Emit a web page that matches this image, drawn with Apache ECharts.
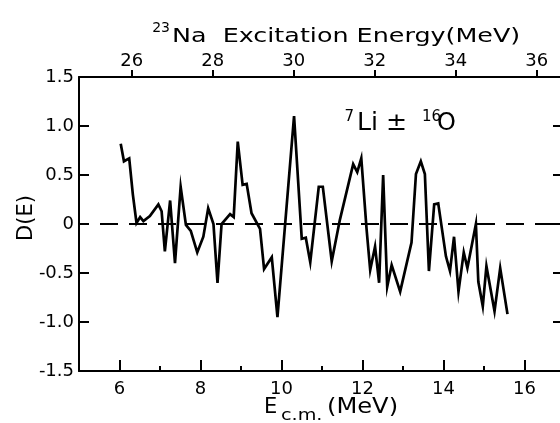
<!DOCTYPE html>
<html>
<head>
<meta charset="utf-8">
<script src="https://cdn.jsdelivr.net/npm/echarts@6/dist/echarts.min.js"></script>
<style>
  html, body { margin: 0; padding: 0; background: #fff; }
  #chart { width: 560px; height: 423px; }
</style>
</head>
<body>
<div id="chart"></div>
<script>
// Centre-of-mass energy (MeV) and deviation function D(E) for 7Li + 16O
const ecm = [
  6.03, 6.11, 6.24, 6.33, 6.42, 6.51, 6.59, 6.75, 6.96, 7.04,
  7.12, 7.25, 7.37, 7.51, 7.64, 7.76, 7.92, 8.07, 8.19, 8.32,
  8.42, 8.52, 8.73, 8.82, 8.92, 9.04, 9.14, 9.26, 9.47, 9.57,
  9.76, 9.90, 10.31, 10.50, 10.60, 10.71, 10.92, 11.02, 11.24, 11.44,
  11.77, 11.87, 11.97, 12.10, 12.19, 12.31, 12.41, 12.51, 12.61, 12.72,
  12.93, 13.21, 13.32, 13.44, 13.54, 13.64, 13.77, 13.87, 14.06, 14.16,
  14.26, 14.37, 14.50, 14.59, 14.80, 14.86, 14.97, 15.06, 15.26, 15.40,
  15.58
];
const dE = [
  0.82, 0.64, 0.67, 0.30, 0.01, 0.07, 0.03, 0.08, 0.20, 0.13,
  -0.28, 0.24, -0.40, 0.38, -0.01, -0.07, -0.29, -0.13, 0.16, 0.00,
  -0.60, 0.00, 0.10, 0.07, 0.84, 0.40, 0.41, 0.11, -0.05, -0.46,
  -0.34, -0.95, 1.10, -0.15, -0.14, -0.39, 0.38, 0.38, -0.38, 0.04,
  0.61, 0.53, 0.67, -0.05, -0.47, -0.23, -0.60, 0.50, -0.64, -0.42,
  -0.69, -0.19, 0.51, 0.64, 0.51, -0.48, 0.20, 0.21, -0.33, -0.48,
  -0.13, -0.69, -0.29, -0.45, 0.00, -0.59, -0.84, -0.43, -0.89, -0.45,
  -0.92
];

// Axis ticks
const ecmMajorTicks = [6, 8, 10, 12, 14, 16];
const ecmMinorTicks = [7, 9, 11, 13, 15];
const exTicks = [26, 28, 30, 32, 34, 36];
const ecmRange = [5, 17];
const dRange = [-1.5, 1.5];
const dStep = 0.5;
// 23Na excitation energy = Ecm + Q(7Li + 16O -> 23Na)
const qValue = 19.70;

const FONT = 'DejaVu Sans';
const INK = '#000';

const chart = echarts.init(document.getElementById('chart'), null, { renderer: 'canvas' });

const lineStyle = { color: INK, width: 2 };
const labelStyle = { color: INK, fontFamily: FONT, fontSize: 18 };

function textEl(text, x, y, size, opts) {
  return Object.assign({
    type: 'text',
    x: x, y: y,
    silent: true,
    style: Object.assign({
      text: text,
      fill: INK,
      fontFamily: FONT,
      fontSize: size,
      align: 'left',
      verticalAlign: 'middle'
    }, (opts && opts.style) || {})
  }, (opts && opts.el) || {});
}

const option = {
  animation: false,
  backgroundColor: '#fff',
  grid: {
    left: 79, top: 77, width: 486, height: 294,
    containLabel: false,
    outerBoundsMode: 'none'
  },
  xAxis: [
    {
      type: 'value', position: 'bottom', min: ecmRange[0], max: ecmRange[1],
      axisLine: { show: true, onZero: false, lineStyle: lineStyle },
      axisTick: { show: true, inside: true, length: 11, customValues: ecmMajorTicks, lineStyle: lineStyle },
      axisLabel: Object.assign({ customValues: ecmMajorTicks, margin: 9 }, labelStyle),
      splitLine: { show: false }
    },
    {
      type: 'value', position: 'bottom', min: ecmRange[0], max: ecmRange[1],
      axisLine: { show: false, onZero: false },
      axisTick: { show: true, inside: true, length: 5, customValues: ecmMinorTicks, lineStyle: lineStyle },
      axisLabel: { show: false },
      splitLine: { show: false }
    },
    {
      type: 'value', position: 'top', min: ecmRange[0] + qValue, max: ecmRange[1] + qValue,
      axisLine: { show: true, onZero: false, lineStyle: lineStyle },
      axisTick: { show: true, inside: false, length: 7, customValues: exTicks, lineStyle: lineStyle },
      axisLabel: Object.assign({ customValues: exTicks, margin: 7 }, labelStyle),
      splitLine: { show: false }
    }
  ],
  yAxis: [
    {
      type: 'value', position: 'left', min: dRange[0], max: dRange[1], interval: dStep,
      axisLine: { show: true, onZero: false, lineStyle: lineStyle },
      axisTick: { show: true, inside: true, length: 10, lineStyle: lineStyle },
      axisLabel: Object.assign({
        margin: 5,
        formatter: v => (v === 0 ? '0' : v.toFixed(1))
      }, labelStyle),
      splitLine: { show: false }
    },
    {
      type: 'value', position: 'right', min: dRange[0], max: dRange[1], interval: dStep,
      axisLine: { show: true, onZero: false, lineStyle: lineStyle },
      axisTick: { show: true, inside: true, length: 12, lineStyle: lineStyle },
      axisLabel: { show: false },
      splitLine: { show: false }
    }
  ],
  series: [
    {
      type: 'line',
      xAxisIndex: 0,
      yAxisIndex: 0,
      data: ecm.map((x, i) => [x, dE[i]]),
      showSymbol: false,
      symbol: 'none',
      lineStyle: { color: INK, width: 2.7, join: 'miter' },
      z: 5,
      markLine: {
        silent: true,
        symbol: ['none', 'none'],
        label: { show: false },
        lineStyle: { color: INK, width: 2, type: [18, 11], dashOffset: -21 },
        data: [{ yAxis: 0 }]
      }
    }
  ],
  graphic: [
    // top axis title
    textEl('23', 170, 28, 14, { style: { align: 'right' } }),
    textEl('Na  Excitation Energy(MeV)', 172, 37, 20, { el: { scaleX: 1.27 } }),
    // reaction label
    textEl('7', 354, 117, 15, { style: { align: 'right' } }),
    textEl('Li ± ', 357, 124, 24, { el: { scaleX: 1.05 } }),
    textEl('16', 422, 117, 15),
    textEl('O', 437, 124, 24),
    // left axis title
    textEl('D(E)', 27, 218, 21, { el: { rotation: Math.PI / 2 }, style: { align: 'center' } }),
    // bottom axis title
    textEl('E', 264, 408, 21),
    textEl('c.m.', 281, 416, 16, { el: { scaleX: 1.2 } }),
    textEl('(MeV)', 327, 408, 21, { el: { scaleX: 1.15 } })
  ]
};

chart.setOption(option);
</script>
</body>
</html>
